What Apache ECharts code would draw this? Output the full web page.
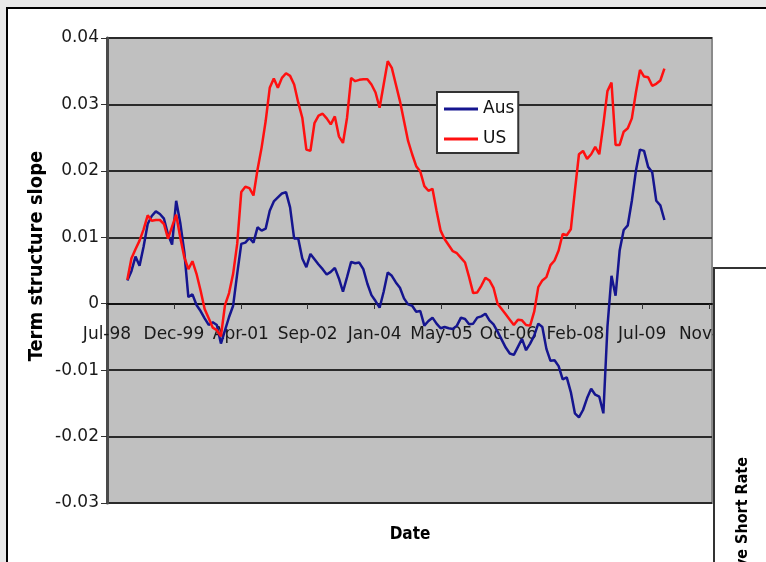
<!DOCTYPE html>
<html>
<head>
<meta charset="utf-8">
<script src="https://cdn.jsdelivr.net/npm/echarts@6/dist/echarts.min.js"></script>
<style>
html,body{margin:0;padding:0;background:#e8e8e8;}
#chart{width:766px;height:562px;}
</style>
</head>
<body>
<div id="chart"></div>
<script>
// Months counted from Jul-98 (tick 0). First observation is Dec-98.
const firstMonthOffset = 5;
const xTickLabels = ['Jul-98','Dec-99','Apr-01','Sep-02','Jan-04','May-05','Oct-06','Feb-08','Jul-09','Nov-10'];
const xTickStep = 148 / 9;   // spacing of date ticks in months
const yTickLabels = ['-0.03','-0.02','-0.01','0','0.01','0.02','0.03','0.04'];

const ausSlope = [
  0.0035,0.0049,0.0071,0.0057,0.0086,0.0120,0.0132,0.0139,0.0135,0.0128,
  0.0104,0.0089,0.0155,0.0122,0.0078,0.0010,0.0014,-0.0002,-0.0011,-0.0022,
  -0.0032,-0.0028,-0.0032,-0.0060,-0.0040,-0.0020,-0.0003,0.0045,0.0090,0.0092,
  0.0099,0.0092,0.0115,0.0110,0.0113,0.0140,0.0154,0.0160,0.0166,0.0168,
  0.0145,0.0098,0.0098,0.0068,0.0055,0.0075,0.0067,0.0059,0.0052,0.0044,
  0.0048,0.0054,0.0038,0.0018,0.0040,0.0063,0.0061,0.0062,0.0052,0.0030,
  0.0013,0.0004,-0.0006,0.0018,0.0047,0.0042,0.0032,0.0024,0.0008,-0.0001,
  -0.0003,-0.0012,-0.0011,-0.0033,-0.0026,-0.0021,-0.0030,-0.0037,-0.0035,-0.0037,
  -0.0038,-0.0033,-0.0021,-0.0023,-0.0031,-0.0030,-0.0021,-0.0019,-0.0015,-0.0025,
  -0.0031,-0.0042,-0.0054,-0.0066,-0.0075,-0.0077,-0.0065,-0.0053,-0.0070,-0.0060,
  -0.0048,-0.0030,-0.0035,-0.0068,-0.0086,-0.0085,-0.0094,-0.0114,-0.0111,-0.0133,
  -0.0165,-0.0171,-0.0160,-0.0142,-0.0128,-0.0137,-0.0140,-0.0165,-0.0035,0.0042,
  0.0012,0.0080,0.0111,0.0118,0.0155,0.0200,0.0232,0.0230,0.0206,0.0198,
  0.0155,0.0148,0.0126
];

const usSlope = [
  0.0036,0.0068,0.0082,0.0095,0.0112,0.0133,0.0125,0.0126,0.0126,0.0120,
  0.0098,0.0116,0.0134,0.0100,0.0070,0.0052,0.0064,0.0045,0.0020,-0.0008,
  -0.0022,-0.0036,-0.0040,-0.0049,-0.0002,0.0016,0.0045,0.0090,0.0168,0.0176,
  0.0174,0.0163,0.0202,0.0235,0.0275,0.0325,0.0339,0.0325,0.0340,0.0347,
  0.0343,0.0330,0.0303,0.0280,0.0232,0.0230,0.0272,0.0283,0.0286,0.0279,
  0.0270,0.0282,0.0252,0.0242,0.0280,0.0340,0.0335,0.0337,0.0338,0.0338,
  0.0330,0.0318,0.0295,0.0330,0.0365,0.0355,0.0330,0.0305,0.0275,0.0245,
  0.0225,0.0207,0.0199,0.0177,0.0170,0.0173,0.0140,0.0110,0.0097,0.0088,
  0.0079,0.0076,0.0069,0.0062,0.0040,0.0016,0.0017,0.0027,0.0039,0.0035,
  0.0024,0.0000,-0.0008,-0.0016,-0.0024,-0.0032,-0.0024,-0.0025,-0.0032,-0.0033,
  -0.0012,0.0025,0.0035,0.0040,0.0058,0.0065,0.0080,0.0105,0.0103,0.0112,
  0.0170,0.0225,0.0230,0.0218,0.0225,0.0236,0.0225,0.0270,0.0320,0.0333,
  0.0239,0.0239,0.0259,0.0264,0.0279,0.0318,0.0352,0.0342,0.0341,0.0328,
  0.0331,0.0336,0.0354
];

const toPairs = arr => arr.map((v, i) => [firstMonthOffset + i, v]);
const xTickValues = xTickLabels.map((_, i) => i * xTickStep);

const FONT = 'DejaVu Sans';
const BOLD_FONT = '"DejaVu Sans Condensed", "DejaVu Sans"';

const chart = echarts.init(document.getElementById('chart'), null, {renderer: 'canvas'});
chart.setOption({
  backgroundColor: '#e8e8e8',
  animation: false,
  grid: {
    left: 107, top: 38, right: 54, bottom: 59,
    show: true, backgroundColor: '#c0c0c0', borderColor: '#8a8a8a', borderWidth: 2,
    containLabel: false, outerBoundsMode: 'none'
  },
  legend: {
    data: ['Aus', 'US'],
    orient: 'vertical',
    left: 437, top: 92,
    padding: [8, 4, 5, 7],
    itemGap: 12,
    itemWidth: 34, itemHeight: 3,
    icon: 'rect',
    backgroundColor: '#ffffff',
    borderColor: '#333333', borderWidth: 2,
    textStyle: {fontFamily: FONT, fontSize: 17, color: '#111', lineHeight: 18}
  },
  xAxis: {
    type: 'value',
    min: 0, max: 148.7,
    position: 'bottom',
    offset: -199,
    axisLine: {show: true, onZero: false, lineStyle: {color: '#111', width: 2}},
    axisTick: {show: true, customValues: xTickValues, length: 5, lineStyle: {color: '#333', width: 1}},
    axisLabel: {
      show: true, customValues: xTickValues, margin: 22,
      fontFamily: FONT, fontSize: 17, color: '#1a1a1a',
      formatter: v => xTickLabels[Math.round(v / xTickStep)]
    },
    splitLine: {show: false}
  },
  yAxis: {
    type: 'value',
    min: -0.03, max: 0.04, interval: 0.01,
    axisLine: {show: true, onZero: false, lineStyle: {color: '#4a4a4a', width: 3}},
    axisTick: {show: true, length: 6, lineStyle: {color: '#333', width: 1}},
    axisLabel: {
      margin: 8, fontFamily: FONT, fontSize: 17, color: '#1a1a1a',
      formatter: v => yTickLabels[Math.round(v * 100) + 3]
    },
    splitLine: {show: true, lineStyle: {color: '#2a2a2a', width: 2}}
  },
  series: [
    {
      name: 'Aus', type: 'line', data: toPairs(ausSlope),
      showSymbol: false, symbol: 'none',
      lineStyle: {color: '#15158f', width: 2.5}, itemStyle: {color: '#15158f'},
      z: 3
    },
    {
      name: 'US', type: 'line', data: toPairs(usSlope),
      showSymbol: false, symbol: 'none',
      lineStyle: {color: '#ff1010', width: 2.5}, itemStyle: {color: '#ff1010'},
      z: 4
    }
  ],
  graphic: [
    {
      type: 'rect', z: -10,
      shape: {x: 7, y: 8, width: 820, height: 620},
      style: {fill: '#ffffff', stroke: '#000000', lineWidth: 2}
    },
    {
      type: 'text', z: 50,
      x: 37, y: 256, rotation: Math.PI / 2,
      style: {text: 'Term structure slope', font: 'bold 20px ' + BOLD_FONT, fill: '#000',
              textAlign: 'center', textVerticalAlign: 'middle'}
    },
    {
      type: 'text', z: 50,
      x: 410, y: 535,
      style: {text: 'Date', font: 'bold 17px ' + BOLD_FONT, fill: '#000',
              textAlign: 'center', textVerticalAlign: 'middle'}
    },
    {
      type: 'rect', z: 100,
      shape: {x: 714, y: 268, width: 120, height: 400},
      style: {fill: '#ffffff', stroke: '#333333', lineWidth: 2}
    },
    {
      type: 'text', z: 101,
      x: 743, y: 457, rotation: Math.PI / 2,
      style: {text: 've Short Rate', font: 'bold 16px ' + BOLD_FONT, fill: '#000',
              textAlign: 'right', textVerticalAlign: 'middle'}
    }
  ]
});
</script>
</body>
</html>
